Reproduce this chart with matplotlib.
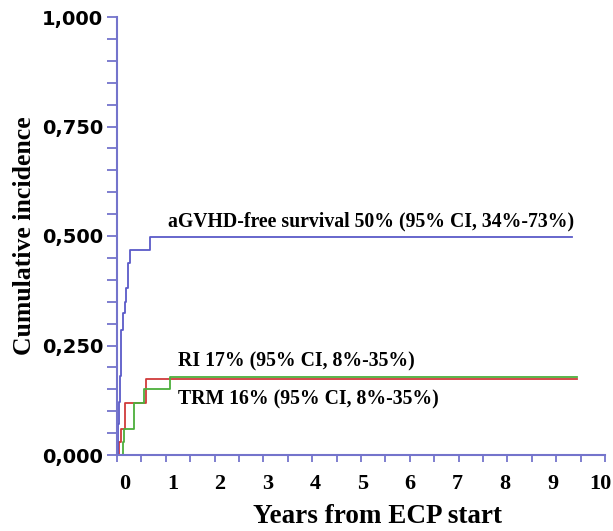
import matplotlib
matplotlib.use("Agg")
import matplotlib.pyplot as plt
import matplotlib.transforms as mtransforms
from matplotlib.ticker import MultipleLocator, FixedLocator

# Data (step curves)
agvhd_t = [0, 0.02, 0.03, 0.045, 0.06, 0.076, 0.09, 0.12, 0.16, 0.19, 0.23, 0.26, 0.68, 9.32]
agvhd_v = [0, 0.03, 0.07, 0.12, 0.18, 0.247, 0.285, 0.324, 0.349, 0.381, 0.438, 0.468, 0.497, 0.497]
ri_t = [0, 0.04, 0.09, 0.16, 0.60, 9.42]
ri_v = [0, 0.03, 0.06, 0.118, 0.174, 0.174]
trm_t = [0, 0.12, 0.14, 0.35, 0.55, 1.09, 9.42]
trm_v = [0, 0.03, 0.06, 0.118, 0.15, 0.179, 0.179]

xticks_major = list(range(0, 11))
yticks_major = [0, 0.25, 0.5, 0.75, 1.0]
ytick_labels = ["0,000", "0,250", "0,500", "0,750", "1,000"]

label_agvhd = "aGVHD-free survival 50% (95% CI, 34%-73%)"
label_ri = "RI 17% (95% CI, 8%-35%)"
label_trm = "TRM 16% (95% CI, 8%-35%)"

blue = "#5a5ac8"
red = "#d03a3a"
green = "#4caf3c"
axcol = "#7474cc"
serif = ["Liberation Serif", "DejaVu Serif"]
sans = ["DejaVu Sans"]

fig = plt.figure(figsize=(6.13, 5.31), dpi=100)
ax = fig.add_axes([117/613, 1-455/531, (605-117)/613, (455-17)/531])

ax.step(ri_t, ri_v, where="post", color=red, lw=1.3)
ax.step(trm_t, trm_v, where="post", color=green, lw=1.3)
ax.step(agvhd_t, agvhd_v, where="post", color=blue, lw=1.3)

ax.set_xlim(0, 10)
ax.set_ylim(0, 1.0)
for s in ["top", "right"]:
    ax.spines[s].set_visible(False)
for s in ["left", "bottom"]:
    ax.spines[s].set_color(axcol)
    ax.spines[s].set_linewidth(1.5)

ax.xaxis.set_major_locator(FixedLocator(xticks_major))
ax.xaxis.set_minor_locator(MultipleLocator(0.5))
ax.yaxis.set_major_locator(FixedLocator(yticks_major))
ax.yaxis.set_minor_locator(MultipleLocator(0.05))
ax.set_yticklabels(ytick_labels)
ax.set_xticklabels([str(v) for v in xticks_major])
ax.tick_params(axis="both", which="both", direction="out", color=axcol, width=1.3)
ax.tick_params(axis="x", which="both", length=5, pad=9)
ax.tick_params(axis="y", which="both", length=7, pad=3)
for i, t in enumerate(ax.get_xticklabels()):
    t.set_fontfamily(serif); t.set_fontweight("bold"); t.set_fontsize(16)
    dx = (8 - 1.3 * i) / 100.0
    t.set_transform(t.get_transform() + mtransforms.ScaledTranslation(dx, 0, fig.dpi_scale_trans))
for t in ax.get_yticklabels():
    t.set_fontfamily(sans); t.set_fontweight("bold"); t.set_fontsize(14)

ax.set_xlabel("Years from ECP start", fontfamily=serif, fontweight="bold", fontsize=19.5, labelpad=7)
ax.xaxis.label.set_x(0.533)
ax.set_ylabel("Cumulative incidence", fontfamily=serif, fontweight="bold", fontsize=18.5, labelpad=4)

ax.text(1.05, 0.532, label_agvhd, fontfamily=serif, fontweight="bold", fontsize=14.2,
        va="center", ha="left")
ax.text(1.25, 0.213, label_ri, fontfamily=serif, fontweight="bold", fontsize=14.2,
        va="center", ha="left")
ax.text(1.25, 0.126, label_trm, fontfamily=serif, fontweight="bold", fontsize=14.2,
        va="center", ha="left")

fig.savefig("out.png", dpi=100)
